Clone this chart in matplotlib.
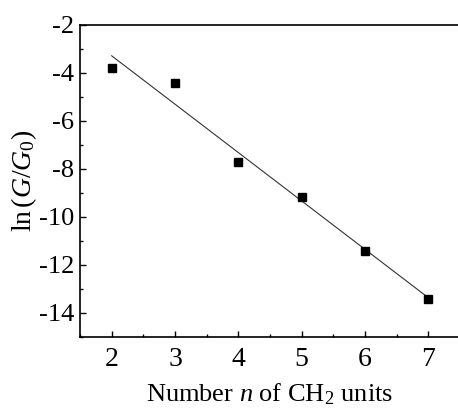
import numpy as np
import matplotlib
matplotlib.use("Agg")
import matplotlib.pyplot as plt
from matplotlib.ticker import MultipleLocator

n_units = [2, 3, 4, 5, 6, 7]
ln_g = [-3.8, -4.42, -7.71, -9.17, -11.42, -13.42]

plt.rcParams['font.family'] = 'Liberation Serif'
plt.rcParams['mathtext.fontset'] = 'custom'
plt.rcParams['mathtext.rm'] = 'Liberation Serif'
plt.rcParams['mathtext.it'] = 'Liberation Serif:italic'

fig = plt.figure(figsize=(4.58, 4.12), dpi=100)
ax = fig.add_axes([80/458, 1-337/412, 380/458, 312/412])

ax.plot(n_units, ln_g, 's', color='black', ms=6, zorder=3)
coef = np.polyfit(n_units, ln_g, 1)
xf = np.array([n_units[0], n_units[-1]])
ax.plot(xf, np.polyval(coef, xf), '-', color='#333333', lw=0.8)

ax.set_xlim(1.5, 7.5)
ax.set_ylim(-15, -2)
ax.xaxis.set_major_locator(MultipleLocator(1))
ax.xaxis.set_minor_locator(MultipleLocator(0.5))
ax.yaxis.set_major_locator(MultipleLocator(2))
ax.yaxis.set_minor_locator(MultipleLocator(1))
ax.tick_params(which='both', direction='in', width=1.0)
ax.tick_params(which='major', length=4.3)
ax.tick_params(which='minor', length=2.2)
ax.tick_params(axis='x', pad=7, labelsize=20)
ax.tick_params(axis='y', pad=4, labelsize=19)
for s in ['left', 'bottom', 'top']:
    ax.spines[s].set_linewidth(1.2)
ax.spines['right'].set_visible(False)

ax.set_yticks(ax.get_yticks())
ax.set_yticklabels([f"{int(v)}" for v in ax.get_yticks()])
ax.set_ylim(-15, -2)

ax.set_xlabel(r'Number $n$ of CH$_2$ units', fontsize=19, labelpad=7)
ax.set_ylabel(r'ln$\,(G/G_0)$', fontsize=20, labelpad=0)

fig.savefig('out.png', dpi=100)
